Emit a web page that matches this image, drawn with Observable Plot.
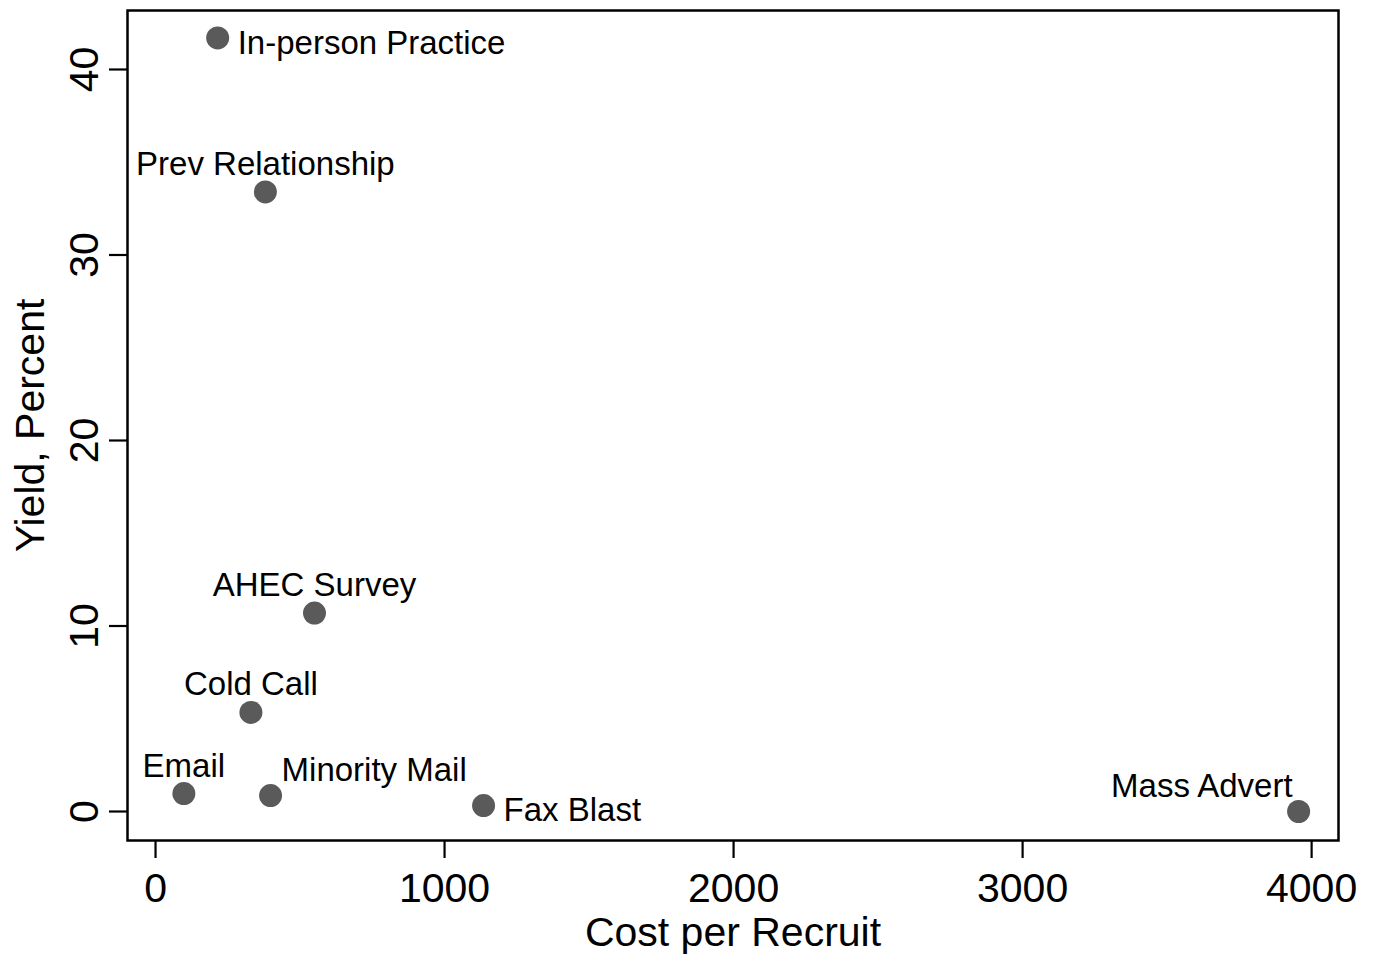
<!DOCTYPE html>
<html><head><meta charset="utf-8">
<script src="https://cdn.jsdelivr.net/npm/d3@7"></script>
<script src="https://cdn.jsdelivr.net/npm/@observablehq/plot@0.6"></script>
<style>html,body{margin:0;padding:0;background:#fff} svg{display:block}</style>
</head><body><div id="chart"></div>
<script>
// ---- data ----
const methods = ["In-person Practice","Prev Relationship","AHEC Survey","Cold Call","Email","Minority Mail","Fax Blast","Mass Advert"];
const costPerRecruit = [215, 380, 550, 330, 98, 398, 1135, 3955];
const yieldPercent = [41.7, 33.4, 10.7, 5.34, 0.97, 0.86, 0.32, 0.0];
const xTicks = [0, 1000, 2000, 3000, 4000];
const yTicks = [0, 10, 20, 30, 40];

// ---- build table ----
const rows = methods.map((m, i) => ({method: m, cost: costPerRecruit[i], yield: yieldPercent[i]}));

// marker label positions (clock positions, as in the original graph)
const labelClock = {"In-person Practice": 3, "Prev Relationship": 12, "AHEC Survey": 12, "Cold Call": 12,
  "Email": 12, "Minority Mail": 1, "Fax Blast": 3, "Mass Advert": 11};
const labelStyle = {
  3:  {textAnchor: "start",  dx: 20, dy: 5,   lineAnchor: "middle"},
  12: {textAnchor: "middle", dx: 0,  dy: -17, lineAnchor: "bottom"},
  1:  {textAnchor: "start",  dx: 11, dy: -15, lineAnchor: "bottom"},
  11: {textAnchor: "end",    dx: -6, dy: -15, lineAnchor: "bottom"}
};
const labelMarks = Object.keys(labelStyle).map(k =>
  Plot.text(rows.filter(d => String(labelClock[d.method]) === k), {
    x: "cost", y: "yield", text: "method", fontSize: 33, fill: "black", ...labelStyle[k]
  })
);

const chart = Plot.plot({
  width: 1379, height: 958,
  marginLeft: 127, marginRight: 41, marginTop: 10, marginBottom: 118,
  x: {domain: [-97, 4093]},
  y: {domain: [-1.563, 43.18]},
  style: {fontFamily: "'Liberation Sans', Arial, Helvetica, sans-serif", background: "white", color: "black"},
  marks: [
    Plot.frame({stroke: "black", strokeWidth: 2.5}),
    Plot.axisX({ticks: xTicks, tickFormat: d => String(d), tickSize: 18, tickPadding: 14, fontSize: 41, strokeWidth: 2.2,
      label: "Cost per Recruit", labelAnchor: "center", labelOffset: 105, labelArrow: "none"}),
    Plot.axisY({ticks: yTicks, tickFormat: d => String(d), tickSize: 18, tickRotate: -90, tickPadding: 12, fontSize: 41, strokeWidth: 2.2,
      label: "Yield, Percent", labelAnchor: "center", labelOffset: 113, labelArrow: "none"}),
    Plot.dot(rows, {x: "cost", y: "yield", r: 11.5, fill: "#5a5a5a", stroke: "none"}),
    ...labelMarks
  ]
});
document.getElementById("chart").appendChild(chart);
</script>
</body></html>
